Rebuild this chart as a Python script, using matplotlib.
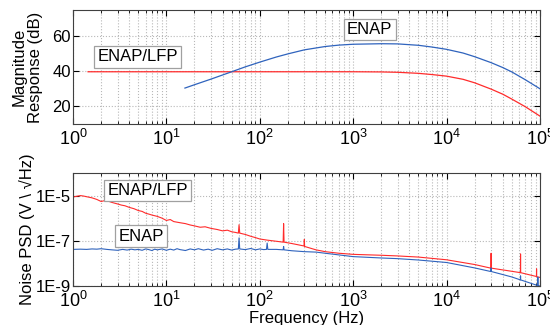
import numpy as np
import matplotlib
matplotlib.use("Agg")
import matplotlib.pyplot as plt
from matplotlib.ticker import LogLocator, NullFormatter, FixedLocator

plt.rcParams['font.family'] = ['Liberation Sans', 'DejaVu Sans']
plt.rcParams['mathtext.fontset'] = 'custom'
plt.rcParams['mathtext.rm'] = 'Liberation Sans'
plt.rcParams['mathtext.it'] = 'Liberation Sans:italic'

RED = '#ff2b2b'
BLUE = '#2f63bd'

# magnitude response (dB)
mag_lfp_f = [1.45, 10, 100, 1000, 2000, 3000, 5000, 7000, 10000, 15000, 20000, 30000,
             40000, 50000, 70000, 100000]
mag_lfp_db = [39.8, 39.8, 39.8, 39.8, 39.7, 39.5, 38.9, 38.2, 37.3, 35.5, 33.5, 29.9,
              27.0, 24.2, 19.8, 14.5]

mag_enap_f = [15.8, 20, 30, 50, 70, 100, 150, 200, 300, 500, 700, 1000, 2000, 3000,
              5000, 7000, 10000, 15000, 20000, 30000, 40000, 50000, 70000, 100000]
mag_enap_db = [30.5, 32.4, 35.6, 39.8, 42.6, 45.3, 48.2, 50.0, 52.3, 54.2, 55.0, 55.5,
               55.8, 55.7, 54.9, 53.9, 52.6, 50.5, 48.4, 45.0, 42.2, 39.7, 35.2, 30.1]

# noise PSD, log10(V/sqrt(Hz))
psd_lfp_f = [1.0, 1.1, 1.2, 1.3, 1.4, 1.6, 1.8, 2.0, 2.2, 2.4, 2.6, 3.0, 3.3, 3.6, 4.0,
             4.5, 5.0, 5.5, 6.0, 6.5, 7.0, 8.0, 9.0, 10, 11, 12, 14, 16, 18, 20, 23,
             26, 30, 35, 40, 45, 50, 55, 59, 60, 61, 70, 80, 90, 100, 120, 150, 178,
             180, 182, 220, 260, 298, 300, 302, 400, 500, 700, 1000, 2000, 3000,
             5000, 10000, 20000, 29800, 30000, 30200, 50000, 61800, 62000, 62200,
             80000, 91800, 92000, 92200, 100000]
psd_lfp_log = [-5.06, -5.03, -5.0, -5.02, -5.05, -5.1, -5.17, -5.26, -5.22, -5.25, -5.3,
               -5.37, -5.42, -5.45, -5.52, -5.58, -5.66, -5.7, -5.78, -5.82, -5.86,
               -5.92, -6.0, -6.1, -6.06, -6.15, -6.2, -6.24, -6.3, -6.34, -6.4, -6.38,
               -6.45, -6.5, -6.56, -6.53, -6.6, -6.63, -6.66, -6.29, -6.66, -6.72,
               -6.8, -6.86, -6.92, -6.97, -7.02, -7.06, -6.24, -7.06, -7.12, -7.18,
               -7.23, -6.94, -7.25, -7.4, -7.48, -7.55, -7.6, -7.64, -7.67, -7.72,
               -7.84, -8.05, -8.21, -7.55, -8.21, -8.35, -8.41, -7.58, -8.41, -8.52,
               -8.58, -8.24, -8.59, -8.62]

psd_enap_f = [1.0, 1.2, 1.4, 1.6, 1.8, 2.0, 2.3, 2.6, 3.0, 3.4, 3.8, 4.2, 4.6, 5.0, 5.5,
              6.0, 6.5, 7.0, 7.5, 8.0, 9.0, 10, 11, 12, 13, 14, 16, 18, 20, 22, 25,
              28, 31, 35, 40, 45, 50, 55, 59, 60, 61, 70, 80, 90, 100, 110, 118, 120,
              122, 150, 178, 180, 182, 220, 300, 400, 500, 1000, 2000, 3000, 5000,
              10000, 20000, 29800, 30000, 30200, 50000, 61800, 62000, 62200, 80000,
              94800, 95000, 95200, 100000]
psd_enap_log = [-7.38, -7.37, -7.38, -7.36, -7.37, -7.35, -7.38, -7.4, -7.42, -7.38,
                -7.41, -7.37, -7.4, -7.38, -7.42, -7.36, -7.39, -7.43, -7.37, -7.4,
                -7.36, -7.42, -7.37, -7.41, -7.35, -7.39, -7.43, -7.36, -7.4, -7.35,
                -7.41, -7.37, -7.42, -7.35, -7.4, -7.36, -7.41, -7.37, -7.36, -6.87,
                -7.36, -7.39, -7.34, -7.4, -7.36, -7.39, -7.38, -7.1, -7.38, -7.38,
                -7.4, -7.25, -7.4, -7.44, -7.48, -7.5, -7.55, -7.7, -7.76, -7.79,
                -7.85, -7.96, -8.2, -8.36, -8.2, -8.36, -8.6, -8.73, -8.55, -8.73,
                -8.88, -8.98, -8.6, -8.99, -9.0]

xticks = [1, 10, 100, 1000, 10000, 100000]
xticklabels = [r'$10^{%d}$' % i for i in range(6)]

fig = plt.figure(figsize=(5.5, 3.25), dpi=100)
ax1 = fig.add_axes([0.1327, 0.6185, 0.849, 0.3505])
ax2 = fig.add_axes([0.1327, 0.12, 0.849, 0.3477])


def style(ax):
    ax.set_xscale('log')
    ax.set_xlim(1, 1e5)
    ax.set_xticks(xticks)
    ax.set_xticklabels(xticklabels)
    ax.xaxis.set_minor_locator(LogLocator(base=10, subs=np.arange(2, 10)))
    ax.xaxis.set_minor_formatter(NullFormatter())
    ax.grid(True, which='both', axis='x', linestyle=':', color='#b8b8b8', linewidth=0.8)
    ax.grid(True, which='major', axis='y', linestyle=':', color='#b8b8b8', linewidth=0.8)
    ax.tick_params(which='both', direction='in', top=True, right=True)
    ax.tick_params(axis='x', labelsize=13)
    ax.tick_params(axis='y', pad=1.5, labelsize=12)
    ax.tick_params(which='major', length=4)
    ax.tick_params(which='minor', length=2)
    for s in ax.spines.values():
        s.set_color('#404040')
        s.set_linewidth(0.8)


style(ax1)
ax1.plot(mag_lfp_f, mag_lfp_db, color=RED, lw=0.9)
ax1.plot(mag_enap_f, mag_enap_db, color=BLUE, lw=0.9)
ax1.set_ylim(10, 75)
ax1.set_yticks([20, 40, 60])
ax1.set_ylabel('Magnitude\nResponse (dB)', fontsize=12, linespacing=1.1)
ax1.yaxis.set_label_coords(-0.064, 0.5)

box = dict(boxstyle='square,pad=0.2', facecolor='white', edgecolor='#a0a0a0', linewidth=0.9)
ax1.text(4.95, 48.3, 'ENAP/LFP', fontsize=12, ha='center', va='center', bbox=box)
ax1.text(1500, 64, 'ENAP', fontsize=12, ha='center', va='center', bbox=box)

style(ax2)
ax2.set_yscale('log')
ax2.plot(psd_lfp_f, np.power(10.0, psd_lfp_log), color=RED, lw=0.8)
ax2.plot(psd_enap_f, np.power(10.0, psd_enap_log), color=BLUE, lw=0.8)
ax2.set_ylim(1e-9, 1e-4)
ax2.yaxis.set_major_locator(FixedLocator([1e-9, 1e-7, 1e-5]))
ax2.yaxis.set_minor_locator(FixedLocator([]))
ax2.set_yticklabels(['1E-9', '1E-7', '1E-5'])
ax2.set_ylabel('Noise PSD (V \\ √Hz)', fontsize=12)
ax2.yaxis.set_label_coords(-0.082, 0.5)
ax2.set_xlabel('Frequency (Hz)', fontsize=12, labelpad=0)
ax2.text(6.3, 1.67e-5, 'ENAP/LFP', fontsize=12, ha='center', va='center', bbox=box)
ax2.text(5.4, 1.58e-7, 'ENAP', fontsize=12, ha='center', va='center', bbox=box)

fig.savefig('out.png', dpi=100)
